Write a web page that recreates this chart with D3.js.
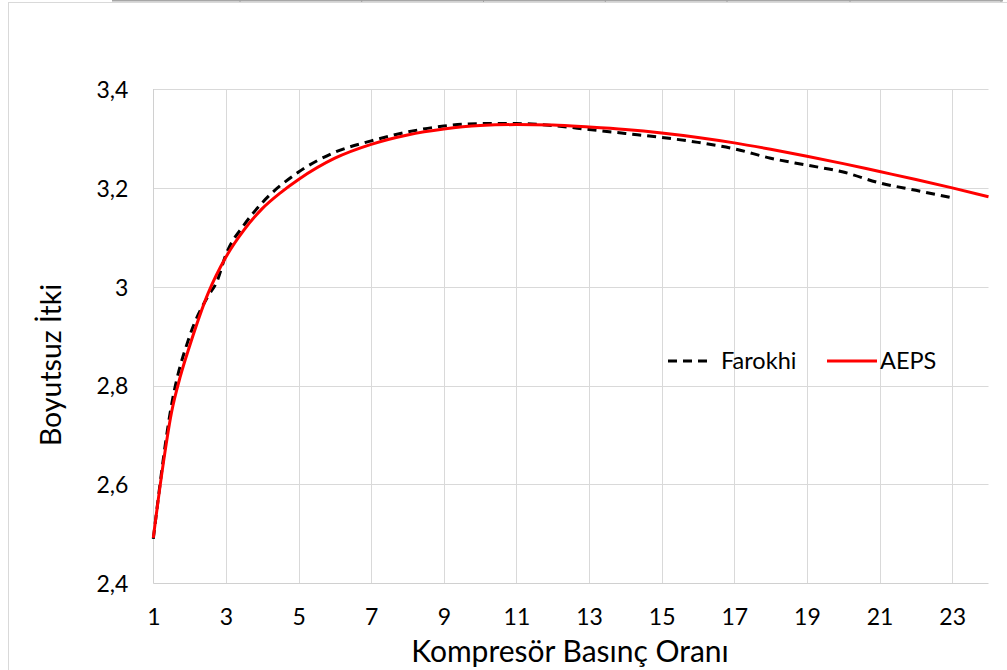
<!DOCTYPE html>
<html>
<head>
<meta charset="utf-8">
<script src="https://d3js.org/d3.v7.min.js"></script>
<style>
  html, body { margin: 0; padding: 0; background: #fff; }
  svg { display: block; font-family: Lato, "Open Sans", "Liberation Sans", sans-serif; }
</style>
</head>
<body>
<svg id="chart" width="1007" height="670"></svg>
<script>
// ---- Data ----
const aepsX = [1, 1.25, 1.5, 1.75, 2, 2.5, 3, 3.5, 4, 4.5, 5, 6, 7, 8, 9, 10, 11, 12, 13, 14, 15, 16, 17, 18, 19, 20, 21, 22, 23, 24];
const aepsY = [2.492, 2.63, 2.745, 2.82, 2.88, 2.985, 3.06, 3.115, 3.158, 3.19, 3.217, 3.26, 3.288, 3.307, 3.319, 3.326, 3.328, 3.327, 3.323, 3.318, 3.311, 3.302, 3.291, 3.278, 3.264, 3.249, 3.233, 3.217, 3.2, 3.182];

const farokhiX = [1, 1.5, 2, 2.5, 2.75, 3, 3.5, 4, 5, 6, 7, 8, 9, 10, 11, 12, 13, 14, 15, 16, 17, 18, 19, 20, 21, 22, 23];
const farokhiY = [2.49, 2.76, 2.9, 2.98, 3.01, 3.065, 3.125, 3.17, 3.232, 3.272, 3.295, 3.313, 3.325, 3.33, 3.33, 3.326, 3.318, 3.31, 3.302, 3.292, 3.279, 3.26, 3.246, 3.232, 3.21, 3.195, 3.18];

const xTicks = [1, 3, 5, 7, 9, 11, 13, 15, 17, 19, 21, 23];
const yTicks = [2.4, 2.6, 2.8, 3.0, 3.2, 3.4];
const seriesNames = ["Farokhi", "AEPS"];
const xTitle = "Kompresör Basınç Oranı";
const yTitle = "Boyutsuz İtki";

(function () {
// ---- Layout ----
const svg = d3.select("#chart");
const pLeft = 153.3, pRight = 988.5, pTop = 89, pBottom = 583.3;

const x = d3.scaleLinear().domain([1, 24]).range([pLeft, pRight]);
const y = d3.scaleLinear().domain([2.4, 3.4]).range([pBottom, pTop]);

// outer frame remnants
svg.append("rect").attr("x", 112).attr("y", 0).attr("width", 891).attr("height", 1.5).attr("fill", "#a6a6a6");
[240, 361.7, 483.5, 605.3, 727, 850, 1001].forEach(px => {
  svg.append("line").attr("x1", px).attr("x2", px).attr("y1", 0).attr("y2", 3).attr("stroke", "#a0a0a0").attr("stroke-width", 1);
});
svg.append("line").attr("x1", 8).attr("x2", 1007).attr("y1", 2.5).attr("y2", 2.5).attr("stroke", "#d9d9d9").attr("stroke-width", 1);
svg.append("line").attr("x1", 8.5).attr("x2", 8.5).attr("y1", 2.5).attr("y2", 670).attr("stroke", "#d9d9d9").attr("stroke-width", 1);

// gridlines
const grid = svg.append("g");
grid.selectAll("line.v").data(xTicks.slice(1)).join("line")
  .attr("x1", d => Math.round(x(d)) + 0.5).attr("x2", d => Math.round(x(d)) + 0.5)
  .attr("y1", pTop).attr("y2", pBottom)
  .attr("stroke", "#d9d9d9").attr("stroke-width", 1);
grid.selectAll("line.h").data(yTicks.slice(1)).join("line")
  .attr("x1", pLeft).attr("x2", pRight)
  .attr("y1", d => Math.round(y(d)) + 0.5).attr("y2", d => Math.round(y(d)) + 0.5)
  .attr("stroke", "#d9d9d9").attr("stroke-width", 1);
// axis lines
svg.append("line").attr("x1", Math.round(pLeft) + 0.5).attr("x2", Math.round(pLeft) + 0.5).attr("y1", pTop).attr("y2", pBottom)
  .attr("stroke", "#d0d0d0").attr("stroke-width", 1);
svg.append("line").attr("x1", pLeft).attr("x2", pRight).attr("y1", Math.round(pBottom) + 0.5).attr("y2", Math.round(pBottom) + 0.5)
  .attr("stroke", "#d0d0d0").attr("stroke-width", 1);

// axes (labels only)
const fmt = d => d3.format(".1f")(d).replace(".", ",").replace(",0", "");
const yAxis = d3.axisLeft(y).tickValues(yTicks).tickSize(0).tickPadding(25).tickFormat(fmt);
const gy = svg.append("g").attr("transform", `translate(${pLeft},0)`).call(yAxis);
gy.select(".domain").remove();
gy.selectAll("text").attr("font-size", 23).attr("fill", "#000").attr("font-family", "Lato, 'Open Sans', sans-serif").attr("dy", "0.36em");

const xAxis = d3.axisBottom(x).tickValues(xTicks).tickSize(0).tickPadding(0).tickFormat(d3.format("d"));
const gx = svg.append("g").attr("transform", `translate(0,${pBottom})`).call(xAxis);
gx.select(".domain").remove();
gx.selectAll("text").attr("font-size", 23).attr("fill", "#000").attr("font-family", "Lato, 'Open Sans', sans-serif")
  .attr("y", 42).attr("dy", 0);

// titles
svg.append("text").attr("x", 570).attr("y", 662).attr("text-anchor", "middle")
  .attr("font-size", 30).attr("fill", "#000").text(xTitle);
svg.append("text").attr("transform", "translate(61,365) rotate(-90)").attr("text-anchor", "middle")
  .attr("font-size", 28.5).attr("fill", "#000").text(yTitle);

// lines
const line = d3.line().x(d => x(d[0])).y(d => y(d[1])).curve(d3.curveMonotoneX);
const farokhiData = farokhiX.map((v, i) => [v, farokhiY[i]]);
const aepsData = aepsX.map((v, i) => [v, aepsY[i]]);

svg.append("path").datum(farokhiData).attr("d", line)
  .attr("fill", "none").attr("stroke", "#000").attr("stroke-width", 3)
  .attr("stroke-dasharray", "9,6");
svg.append("path").datum(aepsData).attr("d", line)
  .attr("fill", "none").attr("stroke", "#ff0000").attr("stroke-width", 3);

// legend
const leg = svg.append("g");
leg.append("line").attr("x1", 668).attr("x2", 713).attr("y1", 361).attr("y2", 361)
  .attr("stroke", "#000").attr("stroke-width", 3).attr("stroke-dasharray", "9,6");
leg.append("text").attr("x", 721).attr("y", 369).attr("font-size", 23.5).attr("fill", "#000").text(seriesNames[0]);
leg.append("line").attr("x1", 827).attr("x2", 877).attr("y1", 361).attr("y2", 361)
  .attr("stroke", "#ff0000").attr("stroke-width", 3);
leg.append("text").attr("x", 880).attr("y", 369).attr("font-size", 23.5).attr("fill", "#000").text(seriesNames[1]);
})();
</script>
</body>
</html>
